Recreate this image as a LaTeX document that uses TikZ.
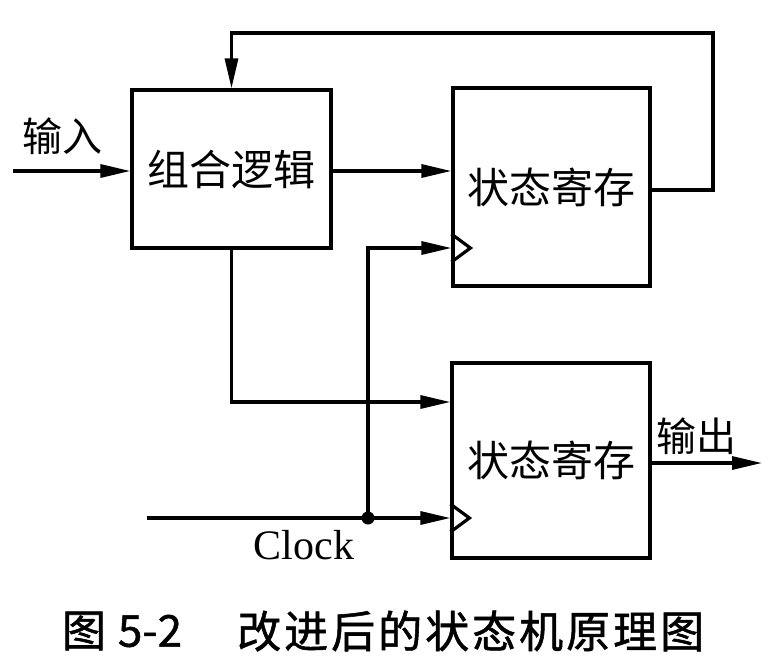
\documentclass[tikz,border=0pt]{standalone}
\usepackage{fontspec}
\setmainfont{Liberation Serif}
\newfontfamily\cjk{Noto Sans CJK SC}
\newfontfamily\cjkcap[FakeBold=1.2]{Noto Sans CJK SC}
\usetikzlibrary{arrows.meta}
\begin{document}
\begin{tikzpicture}[x=1pt,y=-1pt,
  blk/.style={draw,line width=3.2pt,minimum width=#1,inner sep=0pt,font=\cjk\fontsize{42}{46}\selectfont},
  arr/.style={line width=3.2pt,-{Triangle[length=30pt,width=13pt]}},
  wire/.style={line width=3.2pt},
  lbl/.style={inner sep=0pt,font=\cjk\fontsize{40}{44}\selectfont},
  captxt/.style={inner sep=0pt,font=\cjkcap\fontsize{44}{48}\selectfont}]
\useasboundingbox[fill=white] (0,0) rectangle (770,665);
\node[blk=199pt,minimum height=158pt] (comb) at (231.5,169) {组合逻辑};
\node[blk=197pt,minimum height=198pt] (reg1) at (551.5,187) {状态寄存};
\node[blk=198pt,minimum height=195pt] (reg2) at (551,460.5) {状态寄存};
% input
\coordinate (inS) at (13,171);
\draw[arr] (inS) -- (inS -| comb.west);
\node[lbl] (inL) at (62,136) {输入};
% comb -> reg1
\draw[arr] (comb.east |- inS) -- (reg1.west |- inS);
% feedback
\coordinate (fbR) at (713,33);
\draw[arr] (reg1.east |- 0,190) -| (fbR) -| (comb.north);
% comb -> reg2
\draw[arr] (comb.south) |- (reg2.west |- 0,402);
% clock
\coordinate (clkS) at (147,518);
\coordinate (dot) at (368,518);
\draw[arr] (clkS) -- (reg2.west |- clkS);
\draw[arr] (dot) |- (reg1.west |- 0,248);
\fill (dot) circle (6.5);
\node[inner sep=0pt,font=\fontsize{42}{46}\selectfont] (clkL) at (304,545) {Clock};
% clock triangles
\draw[wire,line join=miter] (reg1.west |- 0,234) -- ++(19,14) -- ++(-19,14);
\draw[wire,line join=miter] (reg2.west |- 0,504) -- ++(19,14) -- ++(-19,14);
% output
\coordinate (outE) at (762,463);
\draw[arr] (reg2.east |- outE) -- (outE);
\node[lbl] (outL) at (696,436) {输出};
% caption
\node[captxt] (capA) at (84,631) {图};
\node[captxt] (capB) at (150,631) {5-2};
\node[captxt,anchor=west] (capC) at (237,631) {改\kern3pt 进\kern3pt 后\kern3pt 的\kern3pt 状\kern3pt 态\kern3pt 机\kern3pt 原\kern3pt 理\kern3pt 图};
\end{tikzpicture}
\end{document}
